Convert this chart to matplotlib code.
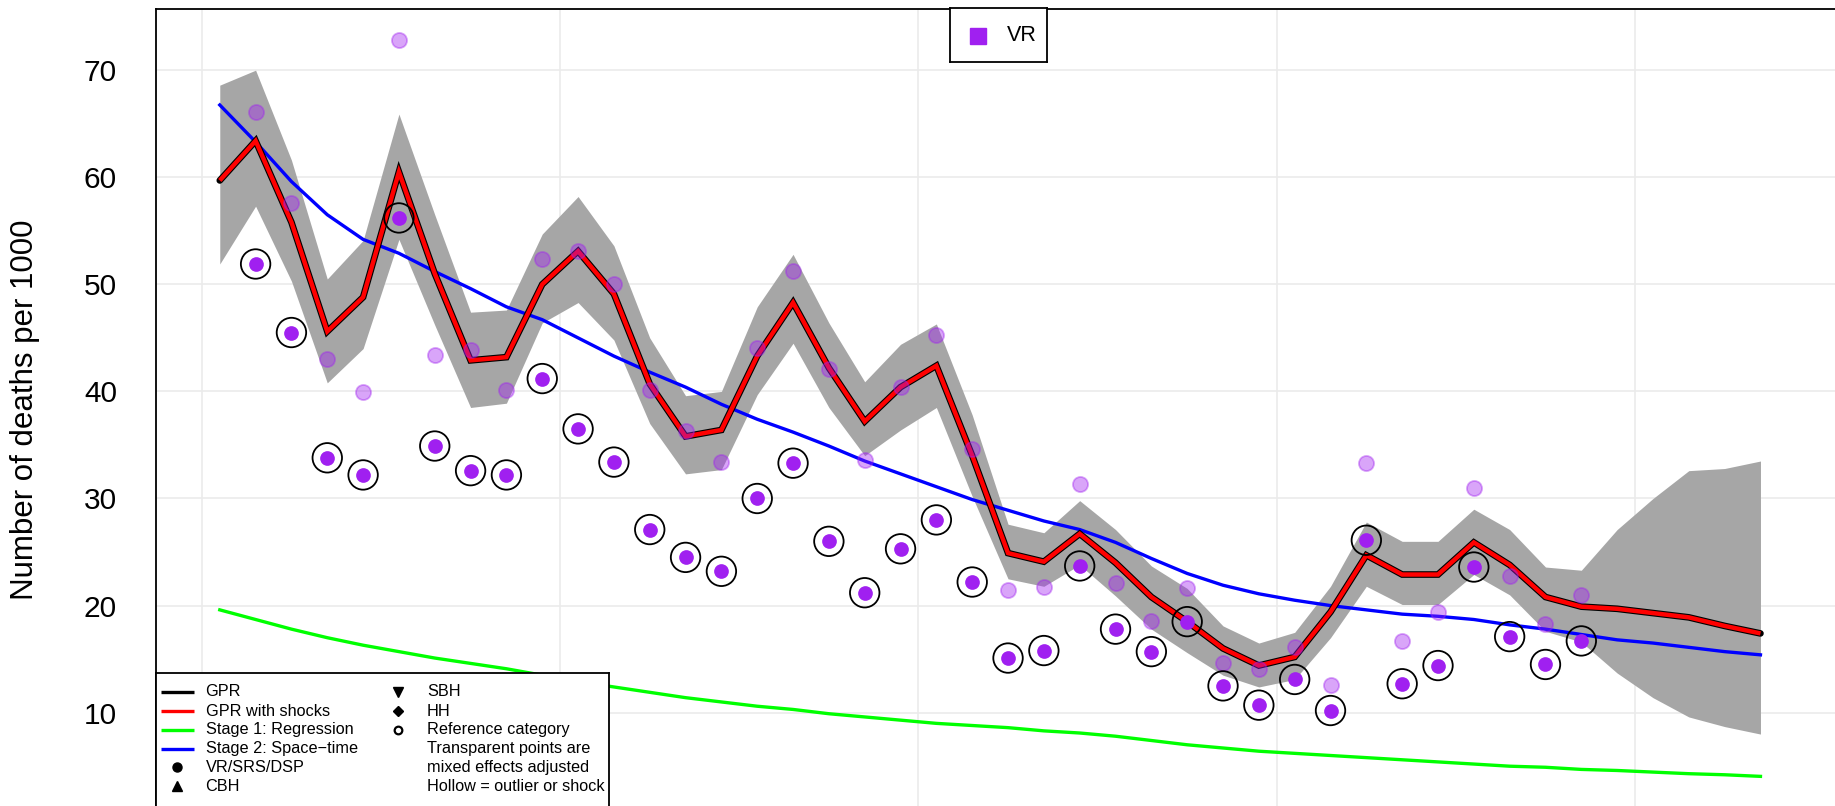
import matplotlib
matplotlib.use("Agg")
import matplotlib.pyplot as plt
import numpy as np

plt.rcParams['font.family'] = ['Liberation Sans', 'DejaVu Sans']

# ---------------- data ----------------
years = list(range(1970, 2014))
gpr_shocks = [59.7, 63.4, 55.8, 45.6, 48.8, 60.5, 51.0, 42.9, 43.2, 50.0,
              53.1, 49.1, 40.7, 35.8, 36.4, 43.3, 48.3, 42.2, 37.2, 40.4,
              42.4, 34.0, 24.9, 24.1, 26.7, 24.0, 20.8, 18.5, 16.0, 14.4,
              15.2, 19.4, 24.7, 22.9, 22.9, 25.9, 23.8, 20.8, 19.9, 19.7,
              19.3, 18.9, 18.1, 17.4]
gpr = [59.7, 63.4, 55.8, 45.6, 48.8, 60.5, 51.0, 42.9, 43.2, 50.0,
       53.1, 49.1, 40.7, 35.8, 36.4, 43.3, 48.3, 42.2, 37.2, 40.4,
       42.4, 34.0, 24.9, 24.1, 26.7, 24.0, 20.8, 18.5, 16.0, 14.4,
       15.2, 19.4, 24.7, 22.9, 22.9, 25.9, 23.8, 20.8, 19.9, 19.7,
       19.3, 18.9, 18.1, 17.4]
upper = [68.6, 70.0, 61.6, 50.5, 54.1, 65.9, 56.5, 47.4, 47.6, 54.7,
         58.2, 53.6, 45.0, 39.6, 40.0, 47.9, 52.8, 46.4, 40.9, 44.4,
         46.3, 37.8, 27.6, 26.8, 29.8, 27.1, 23.7, 21.6, 18.1, 16.5,
         17.5, 21.8, 27.8, 26.0, 26.0, 29.0, 27.1, 23.6, 23.3, 27.1,
         30.0, 32.6, 32.8, 33.5]
lower = [51.9, 57.3, 50.3, 40.8, 44.0, 54.2, 46.2, 38.5, 38.9, 46.4,
         48.3, 44.8, 37.0, 32.3, 32.7, 39.7, 44.5, 38.5, 34.0, 36.4,
         38.5, 30.2, 22.5, 21.8, 23.8, 20.9, 17.8, 15.6, 13.5, 12.4,
         13.1, 17.0, 21.8, 20.1, 20.1, 22.9, 21.0, 17.6, 16.6, 13.7,
         11.4, 9.6, 8.7, 8.0]
stage1 = [19.6, 18.7, 17.8, 17.0, 16.3, 15.7, 15.1, 14.6, 14.1, 13.5,
          12.9, 12.4, 11.9, 11.4, 11.0, 10.6, 10.3, 9.9, 9.6, 9.3,
          9.0, 8.8, 8.6, 8.3, 8.1, 7.8, 7.4, 7.0, 6.7, 6.4,
          6.2, 6.0, 5.8, 5.6, 5.4, 5.2, 5.0, 4.9, 4.7, 4.6,
          4.45, 4.3, 4.2, 4.05]
stage2 = [66.75, 63.3, 59.6, 56.5, 54.2, 52.9, 51.2, 49.6, 47.9, 46.7,
          45.0, 43.3, 41.8, 40.4, 38.8, 37.4, 36.2, 34.9, 33.5, 32.3,
          31.1, 29.9, 28.9, 27.9, 27.1, 25.9, 24.4, 23.0, 21.9, 21.1,
          20.5, 20.0, 19.6, 19.2, 19.0, 18.7, 18.2, 17.8, 17.3, 16.8,
          16.5, 16.1, 15.7, 15.4]

point_years = list(range(1971, 2009))
vr_raw = [51.9, 45.5, 33.8, 32.2, 56.2, 34.9, 32.6, 32.2, 41.2, 36.5,
          33.4, 27.1, 24.5, 23.2, 30.0, 33.3, 26.0, 21.2, 25.3, 28.0,
          22.2, 15.1, 15.8, 23.7, 17.8, 15.7, 18.5, 12.5, 10.7, 13.1,
          10.2, 26.1, 12.7, 14.4, 23.6, 17.1, 14.5, 16.7]
vr_adjusted = [66.1, 57.6, 43.0, 39.9, 72.8, 43.4, 43.9, 40.1, 52.4, 53.1,
               50.0, 40.1, 36.3, 33.4, 44.1, 51.2, 42.1, 33.6, 40.4, 45.3,
               34.6, 21.5, 21.7, 31.4, 22.1, 18.6, 21.6, 14.6, 14.1, 16.1,
               12.6, 33.3, 16.7, 19.4, 31.0, 22.8, 18.3, 21.0]

yticks = [10, 20, 30, 40, 50, 60, 70]
xticks = [1970, 1980, 1990, 2000, 2010]
ylabel = "Number of deaths per 1000"
legend_col1 = ["GPR", "GPR with shocks", "Stage 1: Regression",
               "Stage 2: Space\u2212time", "VR/SRS/DSP", "CBH"]
legend_col2 = ["SBH", "HH", "Reference category", "Transparent points are",
               "mixed effects adjusted", "Hollow = outlier or shock"]

PURPLE = "#A020F0"

# ---------------- figure ----------------
W, H = 1835, 806
fig = plt.figure(figsize=(W / 100, H / 100), dpi=100)

x0, x1 = 1968.72, 2016.0
y0, y1 = 0.0, 75.76
pxx, pxy = 35.83, 10.708
left_px, top_px = 156, 8.5
w_px = (x1 - x0) * pxx
h_px = (y1 - y0) * pxy
ax = fig.add_axes([left_px / W, 1 - (top_px + h_px) / H, w_px / W, h_px / H])
ax.set_xlim(x0, x1)
ax.set_ylim(y0, y1)

x = np.array(years) + 0.5
xp = np.array(point_years) + 0.5

ax.set_yticks(yticks)
ax.set_xticks(xticks)
ax.grid(True, color="#EBEBEB", lw=1.2, zorder=0)
ax.set_axisbelow(True)
ax.tick_params(length=0, labelsize=21.5, pad=28, labelbottom=False)
for s in ax.spines.values():
    s.set_linewidth(1.3)
    s.set_color("black")

ax.fill_between(x, lower, upper, color="#A6A6A6", lw=0, zorder=2)
ax.plot(x, stage1, color="#00FF00", lw=2.4, zorder=3)
ax.plot(x, stage2, color="#0000FF", lw=2.4, zorder=3)
ax.plot(x, gpr, color="black", lw=4.8, zorder=4,
        solid_capstyle="round", solid_joinstyle="miter")
ax.plot(x, gpr_shocks, color="#FF0000", lw=3.2, zorder=5,
        solid_capstyle="butt", solid_joinstyle="miter")
ax.scatter(xp, vr_adjusted, s=118, color=PURPLE, alpha=0.4,
           edgecolors=PURPLE, linewidths=1.3, zorder=6)
ax.scatter(xp, vr_raw, s=112, color=PURPLE, linewidths=0, zorder=7)
ax.scatter(xp, vr_raw, s=450, facecolors="none", edgecolors="black",
           linewidths=1.3, zorder=7)

fig.text(25 / W, 1 - 410 / H, ylabel, rotation=90, ha="center", va="center",
         fontsize=22.5)

# ---------------- bottom-left legend ----------------
lg_l, lg_r, lg_t, lg_b = 156, 608.6, 672.5, 830
lw_, lh_ = lg_r - lg_l, lg_b - lg_t
lax = fig.add_axes([lg_l / W, 1 - lg_b / H, lw_ / W, lh_ / H], zorder=10)
lax.set_xlim(0, lw_)
lax.set_ylim(lh_, 0)
lax.set_xticks([])
lax.set_yticks([])
lax.set_facecolor("white")
for s in lax.spines.values():
    s.set_linewidth(1.3)
    s.set_color("black")

rows = [19.5, 38.5, 57.2, 76.0, 94.8, 113.6]
line_colors = ["black", "#FF0000", "#00FF00", "#0000FF"]
for i, c in enumerate(line_colors):
    lax.plot([4.5, 37.5], [rows[i], rows[i]], color=c, lw=2.4,
             solid_capstyle="butt")
lax.plot([21], [rows[4]], marker="o", color="black", ms=6.5, ls="")
lax.plot([21], [rows[5]], marker="^", color="black", ms=7, ls="")
for i, t in enumerate(legend_col1):
    lax.text(49.5, rows[i], t, fontsize=11.7, va="center", ha="left")

lax.plot([242], [rows[0]], marker="v", color="black", ms=7, ls="")
lax.plot([242], [rows[1]], marker="D", color="black", ms=5.5, ls="")
lax.plot([242], [rows[2]], marker="o", mfc="white", mec="black", mew=1.6,
         ms=5.5, ls="")
for i, t in enumerate(legend_col2):
    lax.text(271, rows[i], t, fontsize=11.7, va="center", ha="left")

# ---------------- top legend (VR) ----------------
vl, vr_, vt, vb = 950, 1046.7, 8.3, 61.7
vw, vh = vr_ - vl, vb - vt
vax = fig.add_axes([vl / W, 1 - vb / H, vw / W, vh / H], zorder=10)
vax.set_xlim(0, vw)
vax.set_ylim(vh, 0)
vax.set_xticks([])
vax.set_yticks([])
vax.set_facecolor("white")
for s in vax.spines.values():
    s.set_linewidth(1.3)
    s.set_color("black")
vax.plot([28.3], [27.2], marker="s", color=PURPLE, ms=12, ls="")
vax.text(56.5, 27.5, "VR", fontsize=15.5, va="center", ha="left")

fig.savefig("out.png", dpi=100)
